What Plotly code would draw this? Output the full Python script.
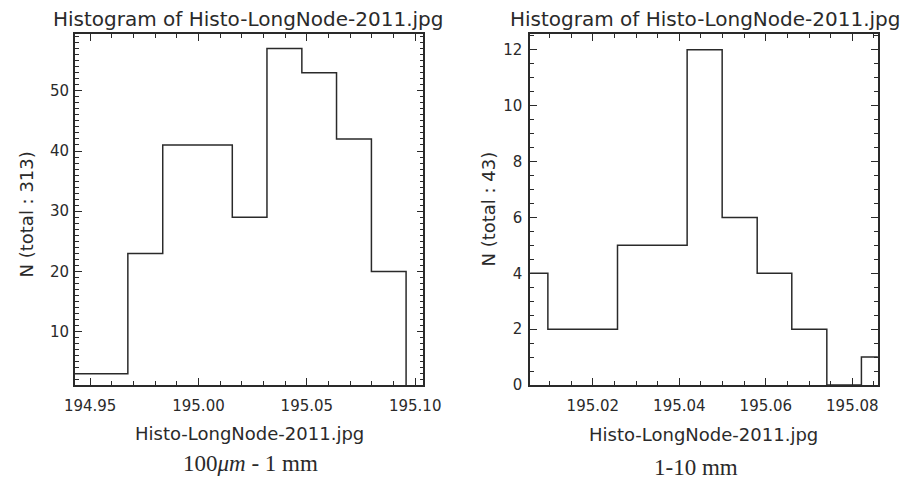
import plotly.graph_objects as go

# ---- data ----
left_edges = [194.9354, 194.9674, 194.9835, 194.9995, 195.0156, 195.0316,
              195.0477, 195.0637, 195.0798, 195.0958]
left_counts = [3, 23, 41, 41, 29, 57, 53, 42, 20]

right_edges = [195.0016, 195.0096, 195.0177, 195.0257, 195.0338, 195.0418,
               195.0499, 195.0580, 195.0660, 195.0741, 195.0821, 195.0902]
right_counts = [4, 2, 2, 5, 5, 12, 6, 4, 2, 0, 1]

title_text = "Histogram of Histo-LongNode-2011.jpg"
xlabel_text = "Histo-LongNode-2011.jpg"
left_ylabel = "N (total : 313)"
right_ylabel = "N (total : 43)"
left_sub = "100<i>μm</i> - 1 mm"
right_sub = "1-10 mm"

W, H = 922, 487
INK = "#2a2a2a"
SANS = "DejaVu Sans"

fig = go.Figure()
fig.add_trace(go.Scatter(x=left_edges, y=left_counts + [0], mode="lines",
                         line=dict(shape="hv", color=INK, width=1.5),
                         xaxis="x", yaxis="y", showlegend=False, hoverinfo="skip"))
fig.add_trace(go.Scatter(x=right_edges, y=right_counts + [0], mode="lines",
                         line=dict(shape="hv", color=INK, width=1.5),
                         xaxis="x2", yaxis="y2", showlegend=False, hoverinfo="skip"))

def px(xp):
    return xp / W

def py(yp):
    return 1 - yp / H

ydom = [py(392.3), py(34.5)]

common = dict(showline=True, linecolor=INK, linewidth=1.5, mirror="ticks",
              ticks="inside", ticklen=7, tickwidth=1.3, tickcolor=INK,
              showgrid=False, zeroline=False,
              tickfont=dict(family=SANS, size=15, color=INK))

fig.update_layout(
    width=W, height=H,
    margin=dict(l=0, r=0, t=0, b=0),
    paper_bgcolor="white", plot_bgcolor="white",
    xaxis=dict(domain=[px(66), px(425.7)], range=[194.94298, 195.10375],
               tick0=194.95, dtick=0.05, tickformat=".2f", anchor="y",
               ticklabelstandoff=6,
               minor=dict(ticks="inside", ticklen=4, dtick=0.01, tick0=194.95,
                          tickcolor=INK, tickwidth=1.2),
               **common),
    yaxis=dict(domain=ydom, range=[1.14, 59.45], tick0=0, dtick=10, anchor="x",
               ticklabelstandoff=1,
               minor=dict(ticks="inside", ticklen=4, dtick=1, tick0=0,
                          tickcolor=INK, tickwidth=1.2),
               **common),
    xaxis2=dict(domain=[px(536), px(895)], range=[195.0055, 195.0859],
                tick0=195.0, dtick=0.02, tickformat=".2f", anchor="y2",
                ticklabelstandoff=6,
                minor=dict(ticks="inside", ticklen=4, dtick=0.005, tick0=195.0,
                           tickcolor=INK, tickwidth=1.2),
                **common),
    yaxis2=dict(domain=ydom, range=[0, 12.57], tick0=0, dtick=2, anchor="x2",
                ticklabelstandoff=3,
                minor=dict(ticks="inside", ticklen=4, dtick=0.5, tick0=0,
                           tickcolor=INK, tickwidth=1.2),
                **common),
)

ann = []
# titles
ann.append(dict(text=title_text, x=px(245), y=py(19), xanchor="center", yanchor="middle",
                font=dict(family=SANS, size=20, color=INK)))
ann.append(dict(text=title_text, x=px(513), y=py(19), xanchor="left", yanchor="middle",
                font=dict(family=SANS, size=20, color=INK)))
# x titles
ann.append(dict(text=xlabel_text, x=px(246), y=py(442), xanchor="center", yanchor="middle",
                font=dict(family=SANS, size=18, color=INK)))
ann.append(dict(text=xlabel_text, x=px(715), y=py(443), xanchor="center", yanchor="middle",
                font=dict(family=SANS, size=18, color=INK)))
# subtitles
ann.append(dict(text=left_sub, x=px(247), y=py(472), xanchor="center", yanchor="middle",
                font=dict(family="Liberation Serif", size=23, color=INK)))
ann.append(dict(text=right_sub, x=px(707), y=py(476), xanchor="center", yanchor="middle",
                font=dict(family="Liberation Serif", size=23, color=INK)))
# y titles
ann.append(dict(text=left_ylabel, x=px(16), y=py(218), xanchor="center", yanchor="middle",
                textangle=-90, font=dict(family=SANS, size=18, color=INK)))
ann.append(dict(text=right_ylabel, x=px(493), y=py(213), xanchor="center", yanchor="middle",
                textangle=-90, font=dict(family=SANS, size=18, color=INK)))
for a in ann:
    a.update(xref="paper", yref="paper", showarrow=False)
fig.update_layout(annotations=ann)

fig.write_html("out.html")
